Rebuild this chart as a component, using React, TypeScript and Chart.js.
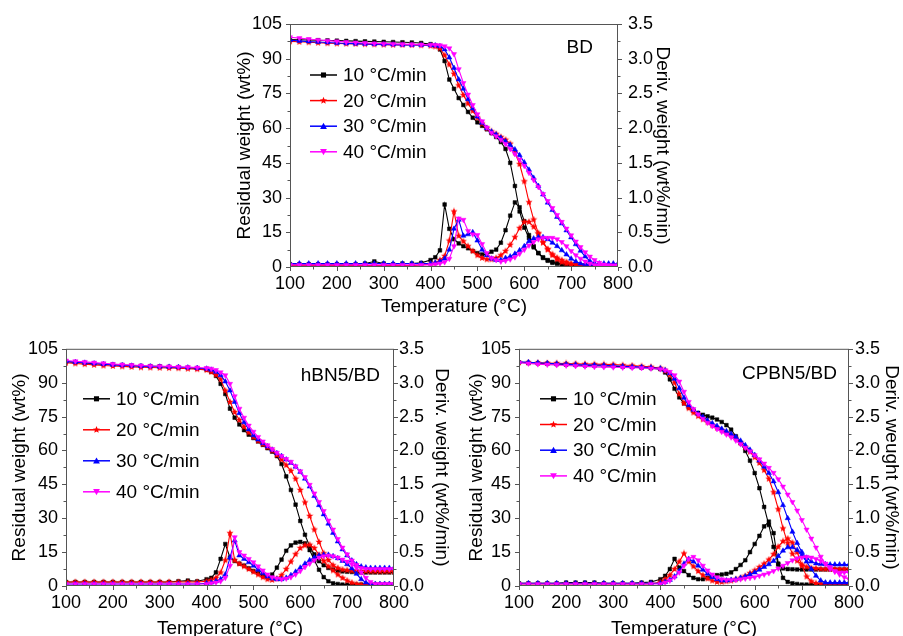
import React, { useEffect, useRef } from 'react';
import { Chart, registerables } from 'chart.js';

Chart.register(...registerables);

const FONT = "'Liberation Sans', Arial, Helvetica, sans-serif";

// ---------------- DATA ----------------
const TEMPS = [100,120,140,160,180,200,220,240,260,280,300,320,340,360,380,
  400,410,420,430,440,450,460,470,480,490,
  500,510,520,530,540,550,560,570,580,590,
  600,610,620,630,640,650,660,670,680,690,
  700,710,720,730,740,750,760,770,780,790,
  800];

const RATE_LABELS = ['10 °C/min', '20 °C/min', '30 °C/min', '40 °C/min'];
const PANEL_NAMES = ['BD', 'hBN5/BD', 'CPBN5/BD'];
const X_TITLE = 'Temperature (°C)';
const LEFT_TITLE = 'Residual weight (wt%)';
const RIGHT_TITLES = ['Deriv. weight (wt%/min)', 'Deriv. weight (wt%/min)', 'Deriv. weught (wt%/min)'];

// BD
const BD_TGA_10 = [98.3,98.2,98.1,98.0,97.9,97.8,97.7,97.6,97.5,97.4,97.3,97.2,97.1,97.0,96.8,
  96.3,95.6,94.0,89.0,81.0,77.0,73.0,70.0,67.0,64.5,
  62.5,61.0,59.5,57.8,56.2,54.0,51.0,45.0,35.0,24.0,
  17.0,12.5,8.5,6.0,4.2,3.0,2.2,1.6,1.2,0.9,
  0.7,0.6,0.5,0.5,0.5,0.5,0.5,0.5,0.5,0.5,
  0.5];
const BD_TGA_20 = [97.5,97.3,97.1,96.9,96.7,96.6,96.5,96.4,96.3,96.2,96.1,96.0,96.0,95.9,95.8,
  95.6,95.3,94.5,91.5,87.5,83.5,78.5,74.3,70.7,67.5,
  64.5,62.0,60.0,58.6,57.5,56.2,55.0,53.3,49.5,44.5,
  37.0,28.0,20.5,14.6,10.5,7.5,5.5,4.0,3.0,2.2,
  1.5,1.1,0.8,0.6,0.6,0.6,0.6,0.6,0.6,0.6,
  0.6];
const BD_TGA_30 = [98.0,97.7,97.4,97.2,97.0,96.8,96.6,96.5,96.4,96.3,96.2,96.1,96.0,95.9,95.9,
  95.8,95.7,95.4,94.0,90.5,86.0,81.0,77.0,72.5,68.5,
  65.0,62.3,60.0,58.5,57.2,55.8,54.3,52.7,50.8,48.3,
  45.2,42.0,38.5,35.0,31.3,27.8,24.6,21.6,18.8,15.8,
  12.8,9.8,7.0,4.5,2.6,1.5,0.9,0.7,0.7,0.7,
  0.7];
const BD_TGA_40 = [99.3,98.9,98.5,98.1,97.8,97.5,97.2,97.0,96.8,96.6,96.5,96.4,96.3,96.2,96.1,
  96.0,95.9,95.8,95.4,94.5,92.0,85.5,79.5,74.5,70.0,
  66.0,63.0,60.3,58.0,56.5,55.0,53.2,51.0,48.8,46.4,
  43.7,40.7,37.6,34.6,31.5,28.5,25.5,22.5,19.5,16.6,
  13.7,11.0,8.6,6.4,4.5,3.0,1.8,1.1,0.8,0.7,
  0.7];
const BD_DTG_10 = [0.04,0.04,0.04,0.04,0.04,0.04,0.04,0.04,0.05,0.08,0.05,0.04,0.05,0.05,0.06,
  0.10,0.14,0.24,0.90,0.55,0.40,0.34,0.30,0.27,0.23,
  0.20,0.18,0.18,0.22,0.25,0.35,0.53,0.74,0.93,0.86,
  0.66,0.46,0.30,0.20,0.13,0.09,0.06,0.05,0.04,0.03,
  0.02,0.02,0.02,0.02,0.02,0.02,0.02,0.02,0.02,0.02,
  0.02];
const BD_DTG_20 = [0.02,0.02,0.02,0.02,0.02,0.02,0.02,0.02,0.02,0.02,0.02,0.02,0.02,0.02,0.03,
  0.04,0.06,0.10,0.16,0.38,0.80,0.45,0.37,0.30,0.23,
  0.17,0.13,0.11,0.11,0.13,0.17,0.23,0.32,0.43,0.56,
  0.65,0.65,0.58,0.48,0.36,0.26,0.17,0.11,0.07,0.05,
  0.04,0.03,0.02,0.02,0.02,0.02,0.02,0.02,0.02,0.02,
  0.02];
const BD_DTG_30 = [0.05,0.05,0.05,0.05,0.05,0.05,0.05,0.05,0.05,0.05,0.05,0.05,0.05,0.05,0.05,
  0.05,0.06,0.08,0.12,0.25,0.55,0.68,0.45,0.47,0.50,
  0.38,0.25,0.17,0.12,0.10,0.10,0.13,0.15,0.19,0.24,
  0.30,0.37,0.41,0.43,0.43,0.40,0.35,0.30,0.24,0.18,
  0.12,0.08,0.05,0.04,0.04,0.05,0.05,0.05,0.05,0.05,
  0.05];
const BD_DTG_40 = [0.03,0.03,0.03,0.03,0.03,0.03,0.03,0.03,0.03,0.03,0.03,0.03,0.03,0.03,0.03,
  0.03,0.04,0.05,0.07,0.12,0.30,0.70,0.68,0.52,0.47,
  0.46,0.33,0.20,0.13,0.10,0.08,0.09,0.11,0.14,0.19,
  0.25,0.31,0.36,0.40,0.42,0.42,0.42,0.40,0.36,0.30,
  0.23,0.17,0.12,0.08,0.05,0.03,0.02,0.02,0.02,0.02,
  0.02];

// hBN5/BD
const HBN_TGA_10 = [99.3,99.0,98.7,98.4,98.2,98.0,97.8,97.6,97.4,97.3,97.2,97.0,96.8,96.6,96.3,
  95.8,94.8,93.0,89.5,85.0,78.5,74.5,71.5,69.0,67.0,
  65.5,64.0,62.5,61.0,59.5,57.5,54.0,48.5,42.5,36.0,
  28.8,22.7,17.6,14.0,11.0,9.2,8.0,7.3,6.8,6.5,
  6.3,6.2,6.1,6.0,6.0,6.0,6.0,6.0,6.0,6.0,
  6.0];
const HBN_TGA_20 = [98.8,98.5,98.2,97.9,97.6,97.4,97.2,97.0,96.8,96.7,96.6,96.5,96.4,96.2,96.0,
  95.6,94.8,93.5,91.5,86.5,81.5,77.0,73.5,70.5,68.0,
  66.0,64.3,62.8,61.5,60.0,58.0,56.0,53.5,51.0,47.5,
  42.5,37.0,31.0,25.0,19.5,14.5,11.5,9.2,8.0,7.3,
  7.0,6.8,6.7,6.6,6.6,6.5,6.5,6.5,6.5,6.5,
  6.5];
const HBN_TGA_30 = [99.5,99.1,98.8,98.5,98.2,97.9,97.7,97.5,97.3,97.2,97.1,97.0,96.9,96.7,96.5,
  96.2,95.7,94.8,93.3,90.5,86.5,81.5,76.5,72.5,69.3,
  66.7,64.8,63.2,61.8,60.3,58.8,57.5,56.0,54.5,52.8,
  50.5,47.5,44.0,39.8,35.8,31.7,27.6,23.5,19.7,16.2,
  13.5,11.3,9.6,8.6,8.2,8.0,8.0,8.0,8.0,8.0,
  8.0];
const HBN_TGA_40 = [99.8,99.5,99.2,98.9,98.6,98.3,98.0,97.8,97.6,97.4,97.3,97.2,97.0,96.9,96.7,
  96.5,96.2,95.6,94.6,93.3,89.5,84.0,78.5,74.5,71.0,
  68.3,66.0,64.0,62.3,60.6,59.0,57.5,56.2,55.0,53.0,
  50.8,48.2,44.8,41.0,37.2,33.2,29.0,25.0,20.8,17.0,
  14.0,11.3,9.3,8.0,7.6,7.5,7.5,7.5,7.5,7.5,
  7.5];
const HBN_DTG_10 = [0.06,0.06,0.06,0.06,0.06,0.06,0.06,0.06,0.06,0.06,0.06,0.06,0.07,0.08,0.07,
  0.10,0.12,0.20,0.40,0.62,0.42,0.37,0.33,0.30,0.26,
  0.22,0.19,0.15,0.13,0.17,0.27,0.39,0.52,0.60,0.64,
  0.65,0.63,0.53,0.38,0.24,0.13,0.07,0.04,0.03,0.02,
  0.02,0.02,0.02,0.02,0.02,0.02,0.02,0.02,0.02,0.02,
  0.02];
const HBN_DTG_20 = [0.06,0.06,0.06,0.06,0.06,0.06,0.06,0.06,0.06,0.06,0.06,0.06,0.06,0.06,0.06,
  0.07,0.09,0.12,0.20,0.38,0.78,0.38,0.33,0.29,0.25,
  0.21,0.17,0.13,0.10,0.09,0.11,0.16,0.25,0.36,0.47,
  0.56,0.60,0.61,0.56,0.46,0.37,0.29,0.23,0.17,0.12,
  0.08,0.05,0.03,0.02,0.02,0.02,0.02,0.02,0.02,0.02,
  0.02];
const HBN_DTG_30 = [0.03,0.03,0.03,0.03,0.03,0.03,0.03,0.03,0.03,0.03,0.03,0.03,0.03,0.03,0.03,
  0.04,0.05,0.07,0.10,0.17,0.42,0.67,0.45,0.40,0.35,
  0.30,0.24,0.19,0.14,0.11,0.10,0.10,0.12,0.16,0.21,
  0.27,0.33,0.38,0.42,0.45,0.46,0.46,0.44,0.41,0.37,
  0.32,0.26,0.18,0.10,0.05,0.03,0.03,0.03,0.03,0.03,
  0.03];
const HBN_DTG_40 = [0.03,0.03,0.03,0.03,0.03,0.03,0.03,0.03,0.03,0.03,0.03,0.03,0.03,0.03,0.03,
  0.03,0.04,0.05,0.07,0.12,0.30,0.72,0.50,0.45,0.40,
  0.35,0.29,0.23,0.17,0.13,0.11,0.10,0.11,0.13,0.17,
  0.22,0.28,0.33,0.38,0.42,0.44,0.45,0.44,0.42,0.39,
  0.36,0.32,0.27,0.20,0.12,0.06,0.03,0.03,0.03,0.03,
  0.03];

// CPBN5/BD
const CP_TGA_10 = [99.0,98.8,98.6,98.4,98.2,98.0,97.8,97.6,97.5,97.4,97.3,97.1,96.9,96.7,96.4,
  96.0,94.5,91.5,87.3,83.5,80.8,79.0,77.6,76.6,75.8,
  75.1,74.5,73.7,72.6,71.2,69.2,66.3,63.2,59.8,55.5,
  50.0,43.3,35.0,27.0,17.3,9.5,7.8,7.5,7.4,7.3,
  7.3,7.3,7.3,7.3,7.3,7.3,7.3,7.3,7.3,7.3,
  7.3];
const CP_TGA_20 = [99.0,98.9,98.8,98.7,98.6,98.5,98.4,98.3,98.2,98.1,98.0,97.8,97.6,97.3,97.0,
  96.4,95.4,93.5,90.0,85.0,81.0,78.7,76.8,75.2,73.8,
  72.5,71.2,70.1,69.0,67.9,66.8,65.4,63.5,61.5,59.5,
  57.0,54.5,51.3,47.5,41.5,34.0,25.5,19.0,14.3,11.2,
  9.5,8.5,8.0,7.8,7.6,7.5,7.5,7.5,7.5,7.5,
  7.5];
const CP_TGA_30 = [99.2,99.0,98.8,98.6,98.4,98.2,98.0,97.9,97.8,97.7,97.5,97.3,97.1,96.9,96.7,
  96.3,95.5,94.2,91.7,87.5,83.3,80.0,78.0,76.3,74.8,
  73.3,72.0,70.8,69.6,68.5,67.3,66.0,64.3,62.3,60.3,
  58.0,55.5,52.8,50.0,46.3,41.5,35.8,30.0,24.0,19.0,
  15.0,12.5,10.8,10.0,9.7,9.6,9.5,9.5,9.5,9.5,
  9.5];
const CP_TGA_40 = [98.8,98.5,98.2,98.0,97.8,97.6,97.4,97.2,97.0,96.9,96.8,96.7,96.6,96.5,96.3,
  96.0,95.5,94.8,93.3,90.5,86.0,81.5,78.3,76.0,74.0,
  72.3,70.8,69.5,68.3,67.1,65.8,64.4,62.8,61.2,59.6,
  57.9,56.1,54.2,52.3,50.1,47.3,44.0,40.5,37.2,33.4,
  29.2,25.0,21.0,17.0,13.0,9.8,7.5,6.3,6.0,6.0,
  6.0];
const CP_DTG_10 = [0.04,0.04,0.04,0.04,0.04,0.05,0.05,0.05,0.05,0.04,0.04,0.04,0.04,0.05,0.06,
  0.10,0.15,0.25,0.40,0.27,0.22,0.16,0.12,0.10,0.10,
  0.12,0.14,0.16,0.17,0.18,0.20,0.25,0.31,0.38,0.50,
  0.62,0.74,0.88,0.95,0.78,0.33,0.12,0.06,0.04,0.03,
  0.02,0.02,0.02,0.02,0.02,0.02,0.02,0.02,0.02,0.02,
  0.02];
const CP_DTG_20 = [0.03,0.03,0.03,0.03,0.03,0.03,0.03,0.03,0.03,0.03,0.03,0.03,0.03,0.03,0.03,
  0.06,0.10,0.16,0.25,0.36,0.48,0.36,0.29,0.22,0.16,
  0.11,0.08,0.06,0.06,0.07,0.08,0.10,0.12,0.15,0.19,
  0.23,0.28,0.33,0.39,0.47,0.58,0.66,0.70,0.64,0.50,
  0.30,0.14,0.07,0.04,0.03,0.03,0.03,0.03,0.03,0.03,
  0.03];
const CP_DTG_30 = [0.04,0.04,0.04,0.04,0.04,0.04,0.04,0.04,0.04,0.04,0.04,0.04,0.04,0.04,0.04,
  0.04,0.06,0.09,0.14,0.22,0.33,0.40,0.36,0.30,0.24,
  0.18,0.13,0.10,0.08,0.08,0.09,0.10,0.12,0.14,0.17,
  0.20,0.24,0.28,0.32,0.37,0.44,0.52,0.57,0.57,0.53,
  0.45,0.36,0.25,0.15,0.08,0.05,0.05,0.05,0.05,0.05,
  0.05];
const CP_DTG_40 = [0.03,0.03,0.03,0.03,0.03,0.03,0.03,0.03,0.03,0.03,0.03,0.03,0.03,0.03,0.03,
  0.03,0.05,0.08,0.13,0.20,0.30,0.40,0.43,0.38,0.30,
  0.23,0.17,0.13,0.10,0.09,0.09,0.09,0.10,0.11,0.12,
  0.13,0.15,0.17,0.19,0.22,0.26,0.30,0.34,0.38,0.41,
  0.42,0.43,0.42,0.40,0.37,0.33,0.28,0.22,0.17,0.13,
  0.10];

const X_TICKS = { min: 100, max: 800, step: 100 };
const LEFT_TICKS = { min: 0, max: 105, step: 15 };
const RIGHT_TICKS = { min: 0, max: 3.5, step: 0.5 };

const PANEL_TGA = [
  [BD_TGA_10, BD_TGA_20, BD_TGA_30, BD_TGA_40],
  [HBN_TGA_10, HBN_TGA_20, HBN_TGA_30, HBN_TGA_40],
  [CP_TGA_10, CP_TGA_20, CP_TGA_30, CP_TGA_40],
];
const PANEL_DTG = [
  [BD_DTG_10, BD_DTG_20, BD_DTG_30, BD_DTG_40],
  [HBN_DTG_10, HBN_DTG_20, HBN_DTG_30, HBN_DTG_40],
  [CP_DTG_10, CP_DTG_20, CP_DTG_30, CP_DTG_40],
];

// ---------------- LAYOUT / STYLE ----------------
const COLORS = ['#000000', '#ff0000', '#0000ff', '#ff00ff'];
const MARKERS = ['square', 'star', 'triangleUp', 'triangleDown'];
const FRAME_COLOR = '#555555';

const LAYOUT = [
  { left: 230, top: 0, width: 455, height: 325, plot: { l: 290, r: 618, t: 24, b: 267 },
    xTitlePad: 7, lTitlePad: 3.5, rTitlePad: 11.5, lTickPad: 8, rTickPad: 10,
    legend: { dx: 20, dy: 51, step: 25.6 }, label: { dr: 25, dy: 29 } },
  { left: 0, top: 330, width: 455, height: 320, plot: { l: 66, r: 394, t: 343, b: 586 },
    xTitlePad: 10.2, lTitlePad: 8.5, rTitlePad: 2.5, lTickPad: 8, rTickPad: 5,
    legend: { dx: 17, dy: 50, step: 31 }, label: { dr: 14, dy: 32 } },
  { left: 455, top: 330, width: 448, height: 320, plot: { l: 519, r: 849, t: 343, b: 586 },
    xTitlePad: 10.2, lTitlePad: 10, rTitlePad: 0, lTickPad: 8, rTickPad: 6,
    legend: { dx: 21, dy: 50, step: 25.7 }, label: { dr: 12, dy: 30 } },
];

function makeStar(color: string, size: number) {
  const c = document.createElement('canvas');
  c.width = size; c.height = size;
  const ctx = c.getContext('2d')!;
  ctx.fillStyle = color;
  ctx.beginPath();
  const cx = size / 2, cy = size / 2, ro = size / 2 - 0.3, ri = ro * 0.45;
  for (let i = 0; i < 10; i++) {
    const r = i % 2 === 0 ? ro : ri;
    const a = -Math.PI / 2 + (i * Math.PI) / 5;
    ctx.lineTo(cx + r * Math.cos(a), cy + r * Math.sin(a));
  }
  ctx.closePath();
  ctx.fill();
  return c;
}

function drawMarker(ctx: CanvasRenderingContext2D, kind: string, x: number, y: number, color: string, s: number) {
  ctx.save();
  ctx.fillStyle = color;
  ctx.beginPath();
  if (kind === 'square') {
    ctx.rect(x - s * 0.75, y - s * 0.75, s * 1.5, s * 1.5);
  } else if (kind === 'star') {
    const ro = s * 1.1, ri = ro * 0.45;
    for (let i = 0; i < 10; i++) {
      const r = i % 2 === 0 ? ro : ri;
      const a = -Math.PI / 2 + (i * Math.PI) / 5;
      ctx.lineTo(x + r * Math.cos(a), y + r * Math.sin(a));
    }
    ctx.closePath();
  } else if (kind === 'triangleUp') {
    ctx.moveTo(x, y - s);
    ctx.lineTo(x + s, y + s * 0.8);
    ctx.lineTo(x - s, y + s * 0.8);
    ctx.closePath();
  } else {
    ctx.moveTo(x, y + s);
    ctx.lineTo(x + s, y - s * 0.8);
    ctx.lineTo(x - s, y - s * 0.8);
    ctx.closePath();
  }
  ctx.fill();
  ctx.restore();
}

const frameTicksPlugin = {
  id: 'frameTicks',
  afterDatasetsDraw(chart: any) {
    const { ctx, chartArea: a, scales } = chart;
    ctx.save();
    ctx.strokeStyle = FRAME_COLOR;
    ctx.lineWidth = 1;
    ctx.strokeRect(a.left + 0.5, a.top + 0.5, a.right - a.left - 1, a.bottom - a.top - 1);
    const line = (x1: number, y1: number, x2: number, y2: number) => {
      ctx.beginPath(); ctx.moveTo(x1, y1); ctx.lineTo(x2, y2); ctx.stroke();
    };
    const doScale = (s: any, vertical: boolean, edge: number, dir: number) => {
      const vals = s.ticks.map((t: any) => t.value);
      vals.forEach((v: number, i: number) => {
        const p = Math.round(s.getPixelForValue(v)) + 0.5;
        if (vertical) line(edge, p, edge + dir * 4, p); else line(p, edge, p, edge + dir * 4);
        if (i < vals.length - 1) {
          const m = Math.round(s.getPixelForValue((v + vals[i + 1]) / 2)) + 0.5;
          if (vertical) line(edge, m, edge + dir * 2.5, m); else line(m, edge, m, edge + dir * 2.5);
        }
      });
    };
    doScale(scales.x, false, a.bottom, 1);
    doScale(scales.y, true, a.left, -1);
    doScale(scales.y1, true, a.right, 1);
    ctx.restore();
  },
};

const annotPlugin = {
  id: 'annot',
  afterDraw(chart: any, _args: any, opts: any) {
    const { ctx, chartArea: a } = chart;
    ctx.save();
    ctx.font = `19px ${FONT}`;
    ctx.fillStyle = '#000';
    ctx.textBaseline = 'alphabetic';
    ctx.textAlign = 'right';
    ctx.fillText(opts.name, a.right - opts.label.dr, a.top + opts.label.dy);
    ctx.textAlign = 'left';
    ctx.textBaseline = 'middle';
    opts.labels.forEach((txt: string, i: number) => {
      const x0 = a.left + opts.legend.dx;
      const y = a.top + opts.legend.dy + i * opts.legend.step;
      ctx.strokeStyle = COLORS[i];
      ctx.lineWidth = 1.5;
      ctx.beginPath(); ctx.moveTo(x0, y); ctx.lineTo(x0 + 27, y); ctx.stroke();
      drawMarker(ctx, MARKERS[i], x0 + 13.5, y, COLORS[i], 3.4);
      ctx.fillStyle = '#000';
      ctx.fillText(txt, x0 + 33, y + 1);
    });
    ctx.restore();
  },
};

function Panel({ idx }: { idx: number }) {
  const ref = useRef<HTMLCanvasElement>(null);
  const L = LAYOUT[idx];
  useEffect(() => {
    const canvas = ref.current;
    if (!canvas) return;
    const star = makeStar(COLORS[1], 8);
    const pointStyles: any[] = ['rect', star, 'triangle', 'triangle'];
    const rotations = [0, 0, 0, 180];
    const radii = [2.6, 3, 3, 3];
    const datasets: any[] = [];
    for (let i = 0; i < 4; i++) {
      const common = {
        borderColor: COLORS[i],
        backgroundColor: COLORS[i],
        pointBackgroundColor: COLORS[i],
        pointBorderColor: COLORS[i],
        pointBorderWidth: 0.5,
        pointStyle: pointStyles[i],
        pointRotation: rotations[i],
        pointRadius: radii[i],
        borderWidth: 1.1,
        tension: 0,
        order: 3 - i,
      };
      datasets.push({
        ...common,
        label: RATE_LABELS[i] + ' TGA',
        yAxisID: 'y',
        data: TEMPS.map((t, k) => ({ x: t, y: PANEL_TGA[idx][i][k] })),
      });
      datasets.push({
        ...common,
        label: RATE_LABELS[i] + ' DTG',
        yAxisID: 'y1',
        data: TEMPS.map((t, k) => ({ x: t, y: PANEL_DTG[idx][i][k] })),
      });
    }
    const tickFont = { family: FONT, size: 18 };
    const titleFont = { family: FONT, size: 19 };
    const chart = new Chart(canvas, {
      type: 'line',
      data: { datasets },
      plugins: [frameTicksPlugin, annotPlugin],
      options: {
        responsive: false,
        animation: false,
        devicePixelRatio: 1,
        layout: { padding: { top: L.plot.t - L.top, left: 0, right: 0, bottom: 0 } },
        plugins: {
          legend: { display: false },
          tooltip: { enabled: false },
          annot: { name: PANEL_NAMES[idx], labels: RATE_LABELS, legend: L.legend, label: L.label },
        } as any,
        scales: {
          x: {
            type: 'linear',
            min: X_TICKS.min, max: X_TICKS.max,
            ticks: { stepSize: X_TICKS.step, color: '#000', font: tickFont, padding: 6, autoSkip: false, maxRotation: 0 },
            grid: { display: false, drawTicks: false },
            border: { display: false },
            title: { display: true, text: X_TITLE, color: '#000', font: titleFont, padding: { top: 0, bottom: L.xTitlePad } },
            afterFit: (s: any) => { s.height = L.top + L.height - L.plot.b; },
          },
          y: {
            type: 'linear', position: 'left',
            min: LEFT_TICKS.min, max: LEFT_TICKS.max,
            ticks: { stepSize: LEFT_TICKS.step, color: '#000', font: tickFont, padding: L.lTickPad },
            grid: { display: false, drawTicks: false },
            border: { display: false },
            title: { display: true, text: LEFT_TITLE, color: '#000', font: titleFont, padding: { top: L.lTitlePad, bottom: 0 } },
            afterFit: (s: any) => { s.width = L.plot.l - L.left; },
          },
          y1: {
            type: 'linear', position: 'right',
            min: RIGHT_TICKS.min, max: RIGHT_TICKS.max,
            ticks: { stepSize: RIGHT_TICKS.step, color: '#000', font: tickFont, padding: L.rTickPad,
              callback: (v: any) => Number(v).toFixed(1) },
            grid: { display: false, drawTicks: false },
            border: { display: false },
            title: { display: true, text: RIGHT_TITLES[idx], color: '#000', font: titleFont, padding: { top: L.rTitlePad, bottom: 0 } },
            afterFit: (s: any) => { s.width = L.left + L.width - L.plot.r; },
          },
        } as any,
      },
    } as any);
    return () => chart.destroy();
  }, [idx]);
  return (
    <canvas
      ref={ref}
      width={L.width}
      height={L.height}
      style={{ position: 'absolute', left: L.left, top: L.top, width: L.width, height: L.height }}
    />
  );
}

export default function App() {
  return (
    <div style={{ position: 'absolute', left: 0, top: 0, width: 903, height: 636, overflow: 'hidden', background: '#ffffff' }}>
      <Panel idx={0} />
      <Panel idx={1} />
      <Panel idx={2} />
    </div>
  );
}
